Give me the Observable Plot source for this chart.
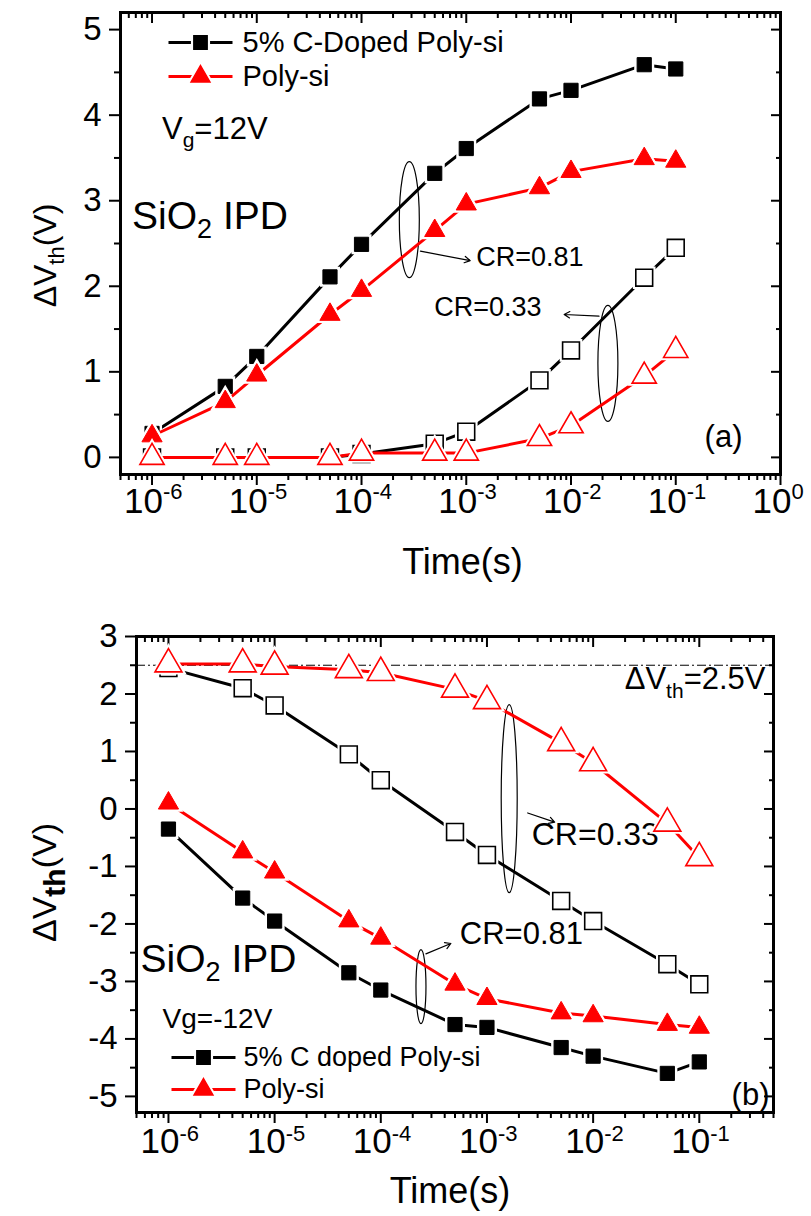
<!DOCTYPE html>
<html><head><meta charset="utf-8">
<script src="https://cdn.jsdelivr.net/npm/d3@7"></script>
<script src="https://cdn.jsdelivr.net/npm/@observablehq/plot@0.6"></script>
<style>
html,body{margin:0;padding:0;background:#fff;}
#wrap{position:relative;width:811px;height:1216px;}
#wrap > svg{position:absolute;left:0;}
</style></head><body><div id="wrap"></div>
<script>
// ---------- data ----------
const times = [1e-6, 5e-6, 1e-5, 5e-5, 1e-4, 5e-4, 1e-3, 5e-3, 1e-2, 5e-2, 1e-1];
// panel (a) Vg = 12V
const aDopedCR081 = [0.28, 0.83, 1.18, 2.11, 2.49, 3.32, 3.61, 4.19, 4.29, 4.59, 4.54];
const aPolyCR081  = [0.25, 0.65, 0.96, 1.67, 1.95, 2.65, 2.96, 3.15, 3.34, 3.49, 3.46];
const aDopedCR033 = [0, 0, 0, 0, 0.04, 0.16, 0.30, 0.90, 1.25, 2.10, 2.45];
const aPolyCR033  = [0, 0, 0, 0, 0.05, 0.05, 0.05, 0.22, 0.37, 0.95, 1.25];
// panel (b) Vg = -12V
const bPolyCR033  = [2.52, 2.52, 2.48, 2.42, 2.37, 2.08, 1.88, 1.15, 0.80, -0.25, -0.85];
const bDopedCR033 = [2.45, 2.10, 1.80, 0.95, 0.50, -0.40, -0.80, -1.60, -1.95, -2.70, -3.05];
const bPolyCR081  = [0.10, -0.75, -1.10, -1.95, -2.25, -3.05, -3.30, -3.55, -3.60, -3.75, -3.80];
const bDopedCR081 = [-0.35, -1.55, -1.95, -2.85, -3.15, -3.75, -3.80, -4.15, -4.30, -4.60, -4.40];
const refLevel = [2.5];
// tick labels
const xExpA = [-6, -5, -4, -3, -2, -1, 0];
const xExpB = [-6, -5, -4, -3, -2, -1];
const yTicksA = [0, 1, 2, 3, 4, 5];
const yTicksB = [3, 2, 1, 0, -1, -2, -3, -4, -5];
const legendA = ["5% C-Doped Poly-si", "Poly-si"];
const legendB = ["5% C doped Poly-si", "Poly-si"];

// ---------- helpers ----------
const FONT = "Liberation Sans, Arial, sans-serif";
const RED = "#ff0000";
const rows = ys => times.map((t, i) => ({t, v: ys[i]}));
const minorLog = (lo, hi, dom) => {
  const out = [];
  for (let e = lo; e <= hi; e++) for (let m = 2; m <= 9; m++) {
    const v = m * Math.pow(10, e);
    if (v >= dom[0] * 0.999 && v <= dom[1] * 1.001) out.push(v);
  }
  return out;
};
const halfSteps = (a, b) => d3.range(a, b + 1e-9, 0.5).filter(v => Math.abs(v % 1) > 0.1);
function ellipseSymbol(rx, ry) {
  const k = 0.5522847498;
  return {draw(c) {
    c.moveTo(rx, 0);
    c.bezierCurveTo(rx, ry * k, rx * k, ry, 0, ry);
    c.bezierCurveTo(-rx * k, ry, -rx, ry * k, -rx, 0);
    c.bezierCurveTo(-rx, -ry * k, -rx * k, -ry, 0, -ry);
    c.bezierCurveTo(rx * k, -ry, rx, -ry * k, rx, 0);
    c.closePath();
  }};
}
const lineSymbol = (half) => ({draw(c) { c.moveTo(-half, 0); c.lineTo(half, 0); }});

function seriesMarks(data, {color, symbol, filled, r}) {
  return [
    Plot.line(data, {x: "t", y: "v", stroke: color, strokeWidth: 3}),
    Plot.dot(data, {x: "t", y: "v", symbol, r: r + 1.6, fill: "white", stroke: "white", strokeWidth: 3}),
    Plot.dot(data, {x: "t", y: "v", symbol, r, fill: filled ? color : "white", stroke: color, strokeWidth: filled ? 1 : 1.6})
  ];
}
function legendMarks(labels, {dx, dy, gap, textDx, fontSize}) {
  const styles = [{color: "black", symbol: "square", r: 7.5}, {color: RED, symbol: "triangle", r: 7}];
  return labels.flatMap((lab, i) => {
    const s = styles[i], o = {frameAnchor: "top-left", dx, dy: dy + i * gap};
    return [
      Plot.dot([lab], {...o, symbol: lineSymbol(32), stroke: s.color, strokeWidth: 3}),
      Plot.dot([lab], {...o, symbol: s.symbol, r: s.r + 1.6, fill: "white", stroke: "white", strokeWidth: 3}),
      Plot.dot([lab], {...o, symbol: s.symbol, r: s.r, fill: s.color, stroke: s.color}),
      Plot.text([lab], {frameAnchor: "top-left", dx: textDx, dy: dy + i * gap, text: d => d, textAnchor: "start", lineAnchor: "middle", fontSize, fill: "black"})
    ];
  });
}
function axesMarks({xMajor, xDom, yMajor, yMinor, tickFont}) {
  const xMinor = minorLog(-7, 0, xDom);
  const none = () => "";
  return [
    Plot.axisX({anchor: "bottom", ticks: xMajor, tickSize: 11, strokeWidth: 2, tickFormat: none, label: null}),
    Plot.axisX({anchor: "bottom", ticks: xMinor, tickSize: 6, strokeWidth: 2, tickFormat: none, label: null}),
    Plot.axisX({anchor: "top", ticks: xMajor, tickSize: -10, strokeWidth: 2, tickFormat: none, label: null}),
    Plot.axisX({anchor: "top", ticks: xMinor, tickSize: -5, strokeWidth: 2, tickFormat: none, label: null}),
    Plot.axisY({anchor: "left", ticks: yMajor, tickSize: 11, tickPadding: 8, strokeWidth: 2, fontSize: tickFont, tickFormat: d => String(d), label: null}),
    Plot.axisY({anchor: "left", ticks: yMinor, tickSize: 6, strokeWidth: 2, tickFormat: none, label: null}),
    Plot.axisY({anchor: "right", ticks: yMajor, tickSize: -10, strokeWidth: 2, tickFormat: none, label: null}),
    Plot.axisY({anchor: "right", ticks: yMinor, tickSize: -5, strokeWidth: 2, tickFormat: none, label: null}),
    Plot.frame({stroke: "black", strokeWidth: 3})
  ];
}
function expLabels(exps, {dy1, dy2}) {
  return [
    Plot.text(exps, {x: e => Math.pow(10, e), frameAnchor: "bottom", text: () => "10", textAnchor: "end", dx: 11, dy: dy1, fontSize: 35}),
    Plot.text(exps, {x: e => Math.pow(10, e), frameAnchor: "bottom", text: e => String(e), textAnchor: "start", dx: 11, dy: dy2, fontSize: 22})
  ];
}
function enrich(svg, key, parts) {
  d3.select(svg).selectAll("text").filter(function() { return this.textContent === key; }).each(function() {
    const el = d3.select(this);
    el.text(null);
    for (const [s, dy, fs, fw] of parts) {
      const ts = el.append("tspan").text(s);
      if (dy) ts.attr("dy", dy);
      if (fs) ts.attr("font-size", fs);
      if (fw) ts.attr("font-weight", fw);
    }
  });
}

// ---------- panel (a) ----------
const xDomA = [5e-7, 1];
const chartA = Plot.plot({
  width: 811, height: 600,
  marginTop: 12, marginLeft: 120, marginRight: 31, marginBottom: 126,
  style: {fontFamily: FONT, color: "black", background: "white", overflow: "visible"},
  x: {type: "log", domain: xDomA},
  y: {domain: [-0.2, 5.2]},
  marks: [
    ...axesMarks({xMajor: xExpA.map(e => Math.pow(10, e)), xDom: xDomA, yMajor: yTicksA, yMinor: halfSteps(0, 5), tickFont: 33}),
    ...expLabels(xExpA, {dy1: 38, dy2: 24}),
    Plot.text(["Time(s)"], {frameAnchor: "bottom", dx: 12, dy: 99, fontSize: 36, text: d => d}),
    Plot.text(["DVTH_A"], {frameAnchor: "left", dx: -75, dy: 12, rotate: -90, textAnchor: "middle", lineAnchor: "middle", fontSize: 32, text: d => d}),
    // annotations
    Plot.dot([{t: 2.86e-4, v: 2.78}], {x: "t", y: "v", symbol: ellipseSymbol(10, 58), fill: "none", stroke: "black", strokeWidth: 1.2}),
    Plot.dot([{t: 0.0225, v: 1.10}], {x: "t", y: "v", symbol: ellipseSymbol(10, 58), fill: "none", stroke: "black", strokeWidth: 1.2}),
    Plot.arrow([{x1: 3.65e-4, y1: 2.41, x2: 1.09e-3, y2: 2.30}], {x1: "x1", y1: "y1", x2: "x2", y2: "y2", strokeWidth: 1.2, headLength: 8}),
    Plot.arrow([{x1: 0.0185, y1: 1.65, x2: 8.6e-3, y2: 1.67}], {x1: "x1", y1: "y1", x2: "x2", y2: "y2", strokeWidth: 1.2, headLength: 8}),
    Plot.text([{t: 1.245e-3, v: 2.34}], {x: "t", y: "v", text: () => "CR=0.81", textAnchor: "start", fontSize: 27}),
    Plot.text([{t: 4.95e-4, v: 1.75}], {x: "t", y: "v", text: () => "CR=0.33", textAnchor: "start", fontSize: 27}),
    Plot.text([{t: 6.45e-7, v: 2.82}], {x: "t", y: "v", text: () => "SIO2_A", textAnchor: "start", fontSize: 39}),
    Plot.text([{t: 1.245e-6, v: 3.84}], {x: "t", y: "v", text: () => "VG_A", textAnchor: "start", fontSize: 31}),
    Plot.text(["(a)"], {frameAnchor: "bottom-right", dx: -38, dy: -37, text: d => d, textAnchor: "end", lineAnchor: "middle", fontSize: 31}),
    // series
    ...seriesMarks(rows(aDopedCR081), {color: "black", symbol: "square", filled: true, r: 8}),
    ...seriesMarks(rows(aPolyCR081), {color: RED, symbol: "triangle", filled: true, r: 7.5}),
    ...seriesMarks(rows(aDopedCR033), {color: "black", symbol: "square", filled: false, r: 9.5}),
    ...seriesMarks(rows(aPolyCR033), {color: RED, symbol: "triangle", filled: false, r: 9}),
    ...legendMarks(legendA, {dx: 80, dy: 30, gap: 34, textDx: 122, fontSize: 29})
  ]
});
chartA.style.top = "0px";
enrich(chartA, "SIO2_A", [["SiO"], ["2", 9, 27], [" IPD", -9, 39]]);
enrich(chartA, "VG_A", [["V"], ["g", 8, 21], ["=12V", -8, 31]]);
enrich(chartA, "DVTH_A", [["ΔV"], ["th", 8, 22], ["(V)", -8, 32]]);

// ---------- panel (b) ----------
const xDomB = [5e-7, 0.5];
const chartB = Plot.plot({
  width: 811, height: 616,
  marginTop: 36, marginLeft: 136, marginRight: 38, marginBottom: 104,
  style: {fontFamily: FONT, color: "black", background: "white", overflow: "visible"},
  x: {type: "log", domain: xDomB},
  y: {domain: [-5.28, 3]},
  marks: [
    ...axesMarks({xMajor: xExpB.map(e => Math.pow(10, e)), xDom: xDomB, yMajor: yTicksB, yMinor: halfSteps(-5, 3), tickFont: 33}),
    ...expLabels(xExpB, {dy1: 40, dy2: 28}),
    Plot.text(["Time(s)"], {frameAnchor: "bottom", dx: -5, dy: 90, fontSize: 36, text: d => d}),
    Plot.text(["DVTH_B"], {frameAnchor: "left", dx: -91, dy: 8, rotate: -90, textAnchor: "middle", lineAnchor: "middle", fontSize: 34, text: d => d}),
    Plot.ruleY(refLevel, {stroke: "black", strokeWidth: 1, strokeDasharray: "9,3,2,3"}),
    Plot.text([{v: 2.26}], {y: "v", frameAnchor: "right", dx: -8, text: () => "DVTH_REF", textAnchor: "end", fontSize: 31}),
    // annotations
    Plot.dot([{t: 1.62e-3, v: 0.18}], {x: "t", y: "v", symbol: ellipseSymbol(8, 94), fill: "none", stroke: "black", strokeWidth: 1.2}),
    Plot.dot([{t: 2.39e-4, v: -3.09}], {x: "t", y: "v", symbol: ellipseSymbol(5, 37), fill: "none", stroke: "black", strokeWidth: 1.2}),
    Plot.arrow([{x1: 2.42e-3, y1: -0.07, x2: 4.34e-3, y2: -0.23}], {x1: "x1", y1: "y1", x2: "x2", y2: "y2", strokeWidth: 1.2, headLength: 8}),
    Plot.arrow([{x1: 2.66e-4, y1: -2.52, x2: 4.57e-4, y2: -2.34}], {x1: "x1", y1: "y1", x2: "x2", y2: "y2", strokeWidth: 1.2, headLength: 8}),
    Plot.text([{t: 2.64e-3, v: -0.45}], {x: "t", y: "v", text: () => "CR=0.33", textAnchor: "start", fontSize: 32}),
    Plot.text([{t: 5.55e-4, v: -2.17}], {x: "t", y: "v", text: () => "CR=0.81", textAnchor: "start", fontSize: 31}),
    Plot.text([{t: 5.46e-7, v: -2.62}], {x: "t", y: "v", text: () => "SIO2_B", textAnchor: "start", fontSize: 39}),
    Plot.text([{t: 8.8e-7, v: -3.66}], {x: "t", y: "v", text: () => "Vg=-12V", textAnchor: "start", fontSize: 28}),
    Plot.text(["(b)"], {frameAnchor: "bottom-right", dx: -4, dy: -17, text: d => d, textAnchor: "end", lineAnchor: "middle", fontSize: 31}),
    // series
    ...seriesMarks(rows(bDopedCR081), {color: "black", symbol: "square", filled: true, r: 8}),
    ...seriesMarks(rows(bPolyCR081), {color: RED, symbol: "triangle", filled: true, r: 7.5}),
    ...seriesMarks(rows(bDopedCR033), {color: "black", symbol: "square", filled: false, r: 9.5}),
    ...seriesMarks(rows(bPolyCR033), {color: RED, symbol: "triangle", filled: false, r: 10}),
    ...legendMarks(legendB, {dx: 67, dy: 421, gap: 32, textDx: 107, fontSize: 27})
  ]
});
chartB.style.top = "600px";
enrich(chartB, "SIO2_B", [["SiO"], ["2", 9, 27], [" IPD", -9, 39]]);
enrich(chartB, "DVTH_B", [["ΔV"], ["th", 9, 30, "bold"], ["(V)", -9, 34]]);
enrich(chartB, "DVTH_REF", [["ΔV"], ["th", 9, 21], ["=2.5V", -9, 31]]);

const wrap = document.getElementById("wrap");
wrap.appendChild(chartA);
wrap.appendChild(chartB);
</script></body></html>
